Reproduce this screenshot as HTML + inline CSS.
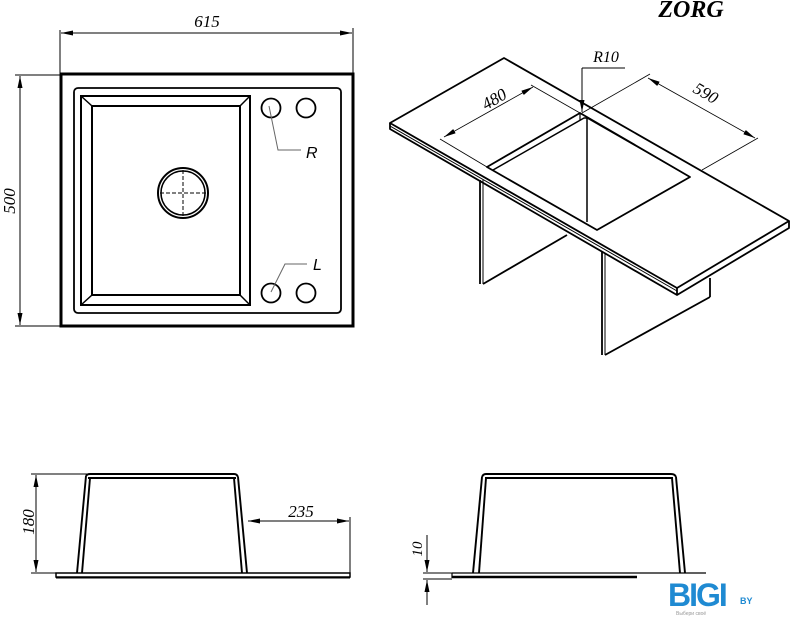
<!DOCTYPE html>
<html><head><meta charset="utf-8"><style>
html,body{margin:0;padding:0;background:#fff;}
svg{display:block;}
text{font-family:"Liberation Serif",serif;font-style:italic;}
</style></head><body>
<svg width="791" height="619" viewBox="0 0 791 619" xmlns="http://www.w3.org/2000/svg">
<defs>
<marker id="a" markerWidth="12" markerHeight="6" refX="12" refY="3" orient="auto-start-reverse" markerUnits="userSpaceOnUse"><path d="M0,0.5 L12,3 L0,5.5 Z" fill="#000"/></marker>
</defs>
<g fill="none" stroke="#000">
<!-- TOP VIEW -->
<rect x="61" y="74" width="292" height="252" stroke-width="3"/>
<rect x="74" y="88" width="267" height="225" rx="4" stroke-width="1.8"/>
<rect x="81" y="96" width="169" height="209" stroke-width="2"/>
<rect x="92" y="106" width="148" height="189" stroke-width="2"/>
<line x1="81" y1="96" x2="92" y2="106" stroke-width="1.5"/>
<line x1="250" y1="96" x2="240" y2="106" stroke-width="1.5"/>
<line x1="81" y1="305" x2="92" y2="295" stroke-width="1.5"/>
<line x1="250" y1="305" x2="240" y2="295" stroke-width="1.5"/>
<circle cx="183" cy="193" r="25" stroke-width="2"/>
<circle cx="183" cy="193" r="22" stroke-width="1.5"/>
<line x1="160" y1="193" x2="206" y2="193" stroke-width="1" stroke-dasharray="4,2"/>
<line x1="183" y1="170" x2="183" y2="216" stroke-width="1" stroke-dasharray="4,2"/>
<circle cx="271" cy="108" r="9.5" stroke-width="1.8"/>
<circle cx="306" cy="108" r="9.5" stroke-width="1.8"/>
<circle cx="271" cy="293" r="9.5" stroke-width="1.8"/>
<circle cx="306" cy="293" r="9.5" stroke-width="1.8"/>
<polyline points="269,106 278,150 301,150" stroke-width="1" stroke="#666"/>
<polyline points="271,292 285,264 307,264" stroke-width="1" stroke="#666"/>
<!-- dims -->
<line x1="60" y1="30" x2="60" y2="73" stroke-width="1"/>
<line x1="353" y1="28" x2="353" y2="73" stroke-width="1"/>
<line x1="61" y1="33" x2="352" y2="33" stroke-width="1" marker-start="url(#a)" marker-end="url(#a)"/>
<line x1="15" y1="75" x2="60" y2="75" stroke-width="1"/>
<line x1="15" y1="326" x2="60" y2="326" stroke-width="1"/>
<line x1="20" y1="76" x2="20" y2="325" stroke-width="1" marker-start="url(#a)" marker-end="url(#a)"/>

<!-- ISOMETRIC -->
<g stroke-width="1.8" stroke-linejoin="round">
<polygon points="390,123 504,58 789,221 677,288"/>
<polyline points="390,123 390,129 677,295 789,228 789,221"/>
<line x1="390" y1="126" x2="677" y2="291" stroke-width="1"/>
<line x1="677" y1="288" x2="677" y2="295"/>
<polygon points="487,167 580,113 690,177 597,230"/>
<polyline points="493,170 584,118 587,118" stroke-width="1.5"/>
<line x1="587" y1="118" x2="587" y2="222" stroke-width="1.5"/>
<line x1="580" y1="113" x2="580" y2="120" stroke-width="1.2"/>
<line x1="587" y1="118" x2="690" y2="177" stroke-width="1.2"/>
<!-- legs -->
<line x1="480" y1="180" x2="480" y2="284"/>
<line x1="483" y1="180" x2="483" y2="284" stroke-width="1"/>
<line x1="483" y1="284" x2="567" y2="235"/>
<line x1="602" y1="252" x2="602" y2="355"/>
<line x1="605" y1="253" x2="605" y2="355" stroke-width="1"/>
<line x1="605" y1="355" x2="710" y2="297"/>
<line x1="710" y1="278" x2="710" y2="297"/>
</g>
<!-- iso dims -->
<line x1="487" y1="167" x2="440" y2="139" stroke-width="0.8"/>
<line x1="580" y1="113" x2="531" y2="85" stroke-width="0.8"/>
<line x1="444" y1="137" x2="533" y2="87" stroke-width="0.8" marker-start="url(#a)" marker-end="url(#a)"/>
<line x1="582" y1="113" x2="650" y2="74" stroke-width="0.8"/>
<line x1="702" y1="170" x2="758" y2="138" stroke-width="0.8"/>
<line x1="648" y1="78" x2="755" y2="138" stroke-width="0.8" marker-start="url(#a)" marker-end="url(#a)"/>
<line x1="625" y1="68" x2="582" y2="68" stroke-width="1"/>
<line x1="582" y1="68" x2="582" y2="112" stroke-width="1" marker-end="url(#a)"/>

<!-- SIDE VIEW LEFT -->
<g stroke-width="1.9">
<path d="M86,476 Q87,474 90,474 L234,474 Q237,474 238,477"/>
<line x1="88" y1="478" x2="236" y2="478"/>
<line x1="86" y1="476" x2="77" y2="573"/>
<line x1="90" y1="478" x2="82" y2="573"/>
<line x1="238" y1="477" x2="247" y2="573"/>
<line x1="234" y1="478" x2="242" y2="573"/>
<rect x="56" y="573" width="294" height="4" stroke-width="1.5"/>
<line x1="56" y1="577.5" x2="350" y2="577.5" stroke-width="2"/>
</g>
<line x1="31" y1="474" x2="88" y2="474" stroke-width="1"/>
<line x1="31" y1="573" x2="77" y2="573" stroke-width="1"/>
<line x1="36" y1="475" x2="36" y2="572" stroke-width="1" marker-start="url(#a)" marker-end="url(#a)"/>
<line x1="248" y1="521" x2="349" y2="521" stroke-width="1" marker-start="url(#a)" marker-end="url(#a)"/>
<line x1="350" y1="517" x2="350" y2="573" stroke-width="1"/>

<!-- SIDE VIEW RIGHT -->
<g stroke-width="1.9">
<path d="M482,477 Q483,474 486,474 L671,474 Q675,474 676,477"/>
<line x1="485" y1="478" x2="673" y2="478"/>
<line x1="482" y1="477" x2="473" y2="573"/>
<line x1="486" y1="478" x2="479" y2="573"/>
<line x1="676" y1="477" x2="685" y2="573"/>
<line x1="672" y1="478" x2="680" y2="573"/>
<line x1="452" y1="573" x2="706" y2="573" stroke-width="1.2"/>
<line x1="452" y1="573" x2="452" y2="578" stroke-width="1.2"/>
<line x1="452" y1="577" x2="637" y2="577" stroke-width="2.5"/>
</g>
<line x1="423" y1="573" x2="452" y2="573" stroke-width="1"/>
<line x1="423" y1="579" x2="452" y2="579" stroke-width="1"/>
<line x1="427" y1="535" x2="427" y2="572" stroke-width="1" marker-end="url(#a)"/>
<line x1="427" y1="605" x2="427" y2="580" stroke-width="1" marker-end="url(#a)"/>
</g>

<!-- TEXT -->
<text x="207" y="27" font-size="17" text-anchor="middle">615</text>
<text transform="translate(15,201) rotate(-90)" font-size="17" text-anchor="middle">500</text>
<text x="306" y="158" font-size="16" style="font-family:'Liberation Sans',sans-serif">R</text>
<text x="313" y="270" font-size="16" style="font-family:'Liberation Sans',sans-serif">L</text>
<text x="691" y="17" font-size="24" font-weight="bold" text-anchor="middle">ZORG</text>
<text x="606" y="62" font-size="16" text-anchor="middle">R10</text>
<text transform="translate(497,104) rotate(-30)" font-size="17" text-anchor="middle">480</text>
<text transform="translate(703,98) rotate(30)" font-size="17" text-anchor="middle">590</text>
<text transform="translate(34,522) rotate(-90)" font-size="17" text-anchor="middle">180</text>
<text x="301" y="517" font-size="17" text-anchor="middle">235</text>
<text transform="translate(422,549) rotate(-90)" font-size="15" text-anchor="middle">10</text>
<text x="668" y="606" font-size="32" font-weight="bold" fill="#1f8ad2" style="font-family:'Liberation Sans',sans-serif;font-style:normal;letter-spacing:-2px">BIGI</text>
<text x="740" y="604" font-size="9" font-weight="bold" fill="#1f8ad2" style="font-family:'Liberation Sans',sans-serif;font-style:normal">BY</text>
<text x="676" y="615" font-size="5" fill="#999" style="font-family:'Liberation Sans',sans-serif;font-style:normal">Выбери своё</text>
</svg>
</body></html>
